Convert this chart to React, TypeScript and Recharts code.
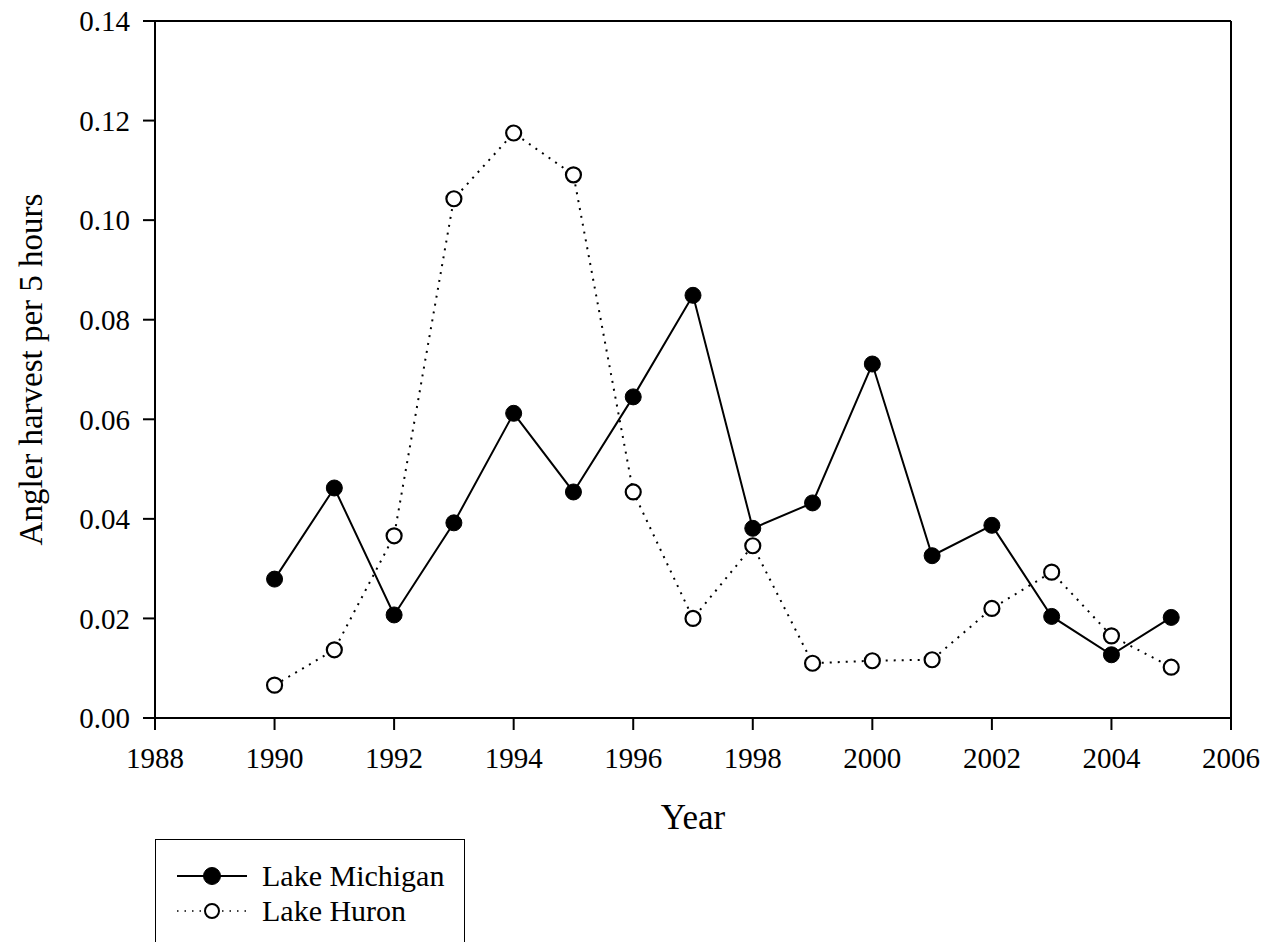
import React from 'react';
import { LineChart, Line, XAxis, YAxis, ReferenceLine, Legend, Label } from 'recharts';

const years = [1990, 1991, 1992, 1993, 1994, 1995, 1996, 1997, 1998, 1999, 2000, 2001, 2002, 2003, 2004, 2005];
const michigan = [0.0279, 0.0462, 0.0207, 0.0392, 0.0612, 0.0454, 0.0645, 0.0849, 0.0381, 0.0432, 0.0711, 0.0326, 0.0387, 0.0204, 0.0127, 0.0202];
const huron = [0.0066, 0.0137, 0.0366, 0.1043, 0.1175, 0.1091, 0.0454, 0.0200, 0.0346, 0.0110, 0.0115, 0.0117, 0.0220, 0.0293, 0.0165, 0.0102];
const xTicks = [1988, 1990, 1992, 1994, 1996, 1998, 2000, 2002, 2004, 2006];
const yTicks = [0, 0.02, 0.04, 0.06, 0.08, 0.1, 0.12, 0.14];

const data = years.map((y, i) => ({ year: y, michigan: michigan[i], huron: huron[i] }));

const FONT = '"Liberation Serif", "Times New Roman", serif';

const SERIES = [
  { key: 'michigan', name: 'Lake Michigan', filled: true },
  { key: 'huron', name: 'Lake Huron', filled: false },
];

const renderLegend = (props: any) => {
  const payload = props.payload || [];
  const items = [...payload].sort(
    (a: any, b: any) => SERIES.findIndex((s) => s.key === a.dataKey) - SERIES.findIndex((s) => s.key === b.dataKey)
  );
  return (
    <div
      style={{
        position: 'relative',
        width: 310,
        height: 130,
        boxSizing: 'border-box',
        borderTop: '1.5px solid #000',
        borderLeft: '1.5px solid #000',
        borderRight: '1.5px solid #000',
        background: '#fff',
        fontFamily: FONT,
      }}
    >
      {items.map((it: any, i: number) => {
        const s = SERIES.find((x) => x.key === it.dataKey)!;
        return (
          <div
            key={it.dataKey}
            style={{
              position: 'absolute',
              left: 21,
              top: 36 + i * 35 - 20,
              height: 40,
              display: 'flex',
              alignItems: 'center',
              whiteSpace: 'nowrap',
            }}
          >
            <svg width={70} height={20} style={{ display: 'block' }}>
              <line
                x1={0}
                x2={70}
                y1={10}
                y2={10}
                stroke="#000"
                strokeWidth={s.filled ? 2 : 1.5}
                strokeDasharray={s.filled ? undefined : '1.5 6'}
              />
              <circle
                cx={35}
                cy={10}
                r={s.filled ? 8.5 : 7}
                fill={s.filled ? '#000' : '#fff'}
                stroke="#000"
                strokeWidth={s.filled ? 1 : 2}
              />
            </svg>
            <span style={{ marginLeft: 15, fontSize: 30, color: '#000', lineHeight: '40px' }}>{it.value}</span>
          </div>
        );
      })}
    </div>
  );
};

const YLabel = (props: any) => {
  const vb = props.viewBox || { x: 0, y: 0, width: 0, height: 0 };
  const cy = vb.y + vb.height / 2;
  const x = 42;
  return (
    <text
      x={x}
      y={cy}
      transform={`rotate(-90, ${x}, ${cy})`}
      textAnchor="middle"
      fontFamily={FONT}
      fontSize={33}
      fill="#000"
    >
      Angler harvest per 5 hours
    </text>
  );
};

const XLabel = (props: any) => {
  const vb = props.viewBox || { x: 0, y: 0, width: 0, height: 0 };
  return (
    <text
      x={vb.x + vb.width / 2}
      y={vb.y + 111}
      textAnchor="middle"
      fontFamily={FONT}
      fontSize={35}
      fill="#000"
    >
      Year
    </text>
  );
};

export default function App() {
  return (
    <div style={{ position: 'absolute', left: 0, top: 0, width: 1285, height: 942, background: '#fff', overflow: 'hidden' }}>
      <LineChart width={1285} height={942} data={data} margin={{ top: 21, right: 54, bottom: 0, left: 0 }}>
        <XAxis
          dataKey="year"
          type="number"
          domain={[1988, 2006]}
          ticks={xTicks}
          height={224}
          tickSize={12}
          tickMargin={17}
          axisLine={{ stroke: '#000', strokeWidth: 2 }}
          tickLine={{ stroke: '#000', strokeWidth: 2 }}
          tick={{ fill: '#000', fontSize: 29, fontFamily: FONT }}
          interval={0}
        >
          <Label content={XLabel} />
        </XAxis>
        <YAxis
          type="number"
          domain={[0, 0.14]}
          ticks={yTicks}
          width={155}
          tickSize={12}
          tickMargin={13}
          tickFormatter={(v: number) => v.toFixed(2)}
          axisLine={{ stroke: '#000', strokeWidth: 2 }}
          tickLine={{ stroke: '#000', strokeWidth: 2 }}
          tick={{ fill: '#000', fontSize: 29, fontFamily: FONT }}
          interval={0}
        >
          <Label content={YLabel} />
        </YAxis>
        <ReferenceLine y={0.14} stroke="#000" strokeWidth={2} />
        <ReferenceLine x={2006} stroke="#000" strokeWidth={2} />
        <Line
          dataKey="huron"
          name="Lake Huron"
          stroke="#000"
          strokeWidth={2}
          strokeDasharray="2 6"
          dot={{ r: 7.5, fill: '#fff', stroke: '#000', strokeWidth: 2.2, strokeDasharray: '' }}
          activeDot={false}
          isAnimationActive={false}
          type="linear"
        />
        <Line
          dataKey="michigan"
          name="Lake Michigan"
          stroke="#000"
          strokeWidth={2}
          dot={{ r: 8, fill: '#000', stroke: '#000', strokeWidth: 1 }}
          activeDot={false}
          isAnimationActive={false}
          type="linear"
        />
        <Legend
          layout="horizontal"
          verticalAlign="middle"
          align="center"
          content={renderLegend}
          wrapperStyle={{ left: 155, top: 839, width: 310, height: 130 }}
        />
      </LineChart>
    </div>
  );
}
